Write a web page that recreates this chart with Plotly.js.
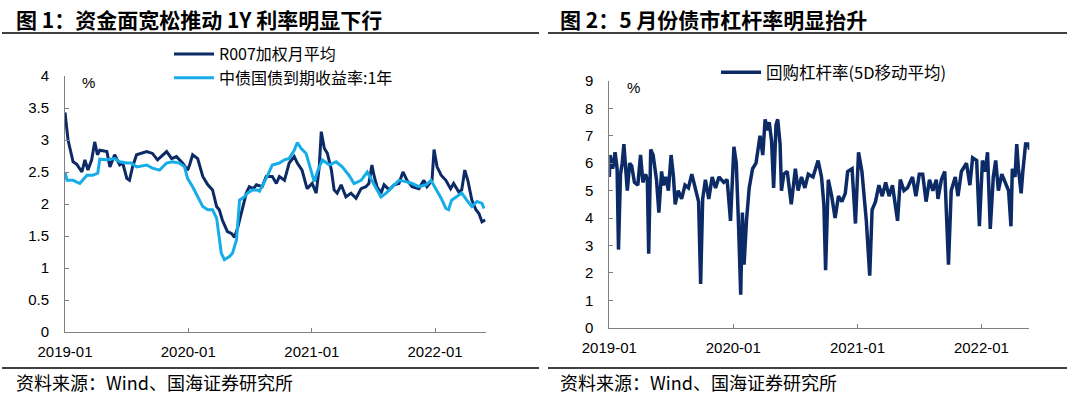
<!DOCTYPE html>
<html>
<head>
<meta charset="utf-8">
<script src="https://cdn.plot.ly/plotly-3.0.1.min.js"></script>
<style>
  html, body { margin: 0; padding: 0; background: #ffffff; }
  #chart { width: 1069px; height: 398px; }
</style>
</head>
<body>
<div id="chart"></div>
<script>
// ---------- Data ----------
const r007Dates = [
  '2019-01-01','2019-01-10','2019-01-25','2019-02-05','2019-02-20','2019-03-01','2019-03-10','2019-03-21',
  '2019-03-30','2019-04-07','2019-04-14','2019-05-05','2019-05-14','2019-05-28','2019-06-12','2019-06-21',
  '2019-07-03','2019-07-11','2019-07-20','2019-08-01','2019-08-31','2019-09-17','2019-10-02','2019-10-29',
  '2019-11-13','2019-11-27','2019-12-15','2019-12-30','2020-01-05','2020-01-14','2020-01-29','2020-02-13',
  '2020-02-28','2020-03-13','2020-03-25','2020-04-02','2020-04-11','2020-04-26','2020-05-08','2020-05-17',
  '2020-05-26','2020-06-09','2020-06-21','2020-06-30','2020-07-12','2020-07-21','2020-08-07','2020-08-19',
  '2020-09-06','2020-09-18','2020-09-27','2020-10-12','2020-10-26','2020-11-10','2020-11-19','2020-12-03',
  '2020-12-18','2021-01-02','2021-01-14','2021-01-23','2021-01-29','2021-02-07','2021-02-16','2021-02-28',
  '2021-03-08','2021-03-17','2021-03-29','2021-04-12','2021-04-27','2021-05-12','2021-05-27','2021-06-10',
  '2021-06-19','2021-06-28','2021-07-04','2021-07-13','2021-07-25','2021-08-03','2021-08-18','2021-09-02',
  '2021-09-16','2021-09-28','2021-10-10','2021-10-25','2021-11-14','2021-11-29','2021-12-08','2021-12-23',
  '2021-12-29','2022-01-07','2022-01-19','2022-02-02','2022-02-16','2022-02-25','2022-03-12','2022-03-21',
  '2022-03-30','2022-04-08','2022-04-20','2022-05-02','2022-05-11','2022-05-20','2022-05-30'
];
const r007Values = [
  3.43,3.00,2.66,2.62,2.50,2.69,2.53,2.69,
  2.97,2.77,2.84,2.82,2.58,2.77,2.61,2.64,
  2.40,2.37,2.58,2.77,2.82,2.79,2.69,2.82,
  2.71,2.74,2.64,2.53,2.61,2.77,2.71,2.43,
  2.30,2.22,1.96,1.91,1.75,1.57,1.54,1.48,
  1.62,1.91,2.17,2.27,2.24,2.30,2.27,2.43,
  2.43,2.32,2.43,2.37,2.64,2.74,2.64,2.53,
  2.24,2.32,2.17,2.58,3.13,2.87,2.79,2.53,
  2.22,2.17,2.30,2.11,2.17,2.09,2.24,2.27,
  2.32,2.61,2.45,2.27,2.17,2.30,2.22,2.30,
  2.32,2.50,2.37,2.27,2.24,2.37,2.27,2.37,
  2.85,2.58,2.45,2.37,2.24,2.32,2.19,2.22,
  2.53,2.37,2.06,1.91,1.85,1.72,1.75
];

const cgbDates = [
  '2019-01-01','2019-01-07','2019-01-25','2019-02-14','2019-03-07','2019-03-24','2019-04-08','2019-04-14',
  '2019-05-05','2019-05-28','2019-06-12','2019-07-03','2019-07-17','2019-08-01','2019-08-31','2019-09-17',
  '2019-10-08','2019-10-29','2019-11-15','2019-12-06','2019-12-21','2019-12-30','2020-01-14','2020-01-29',
  '2020-02-13','2020-02-28','2020-03-13','2020-03-25','2020-04-02','2020-04-08','2020-04-17','2020-05-02',
  '2020-05-11','2020-05-23','2020-06-01','2020-06-15','2020-06-24','2020-07-09','2020-07-24','2020-07-30',
  '2020-08-19','2020-09-06','2020-09-27','2020-10-12','2020-10-26','2020-11-10','2020-11-19','2020-11-30',
  '2020-12-15','2020-12-30','2021-01-08','2021-01-17','2021-02-01','2021-02-22','2021-03-14','2021-04-01',
  '2021-04-21','2021-05-06','2021-05-27','2021-06-14','2021-06-28','2021-07-13','2021-07-25','2021-08-09',
  '2021-08-27','2021-09-16','2021-10-07','2021-10-25','2021-11-14','2021-12-05','2021-12-20','2022-01-03',
  '2022-01-19','2022-02-02','2022-02-10','2022-02-19','2022-03-06','2022-03-21','2022-04-05','2022-04-20',
  '2022-05-05','2022-05-20','2022-05-26'
];
const cgbValues = [
  2.50,2.37,2.37,2.32,2.45,2.45,2.48,2.70,
  2.69,2.71,2.66,2.64,2.64,2.58,2.61,2.56,
  2.53,2.64,2.66,2.64,2.58,2.40,2.27,2.11,
  1.96,1.91,1.91,1.78,1.44,1.23,1.13,1.18,
  1.23,1.44,2.06,2.11,2.17,2.22,2.22,2.20,
  2.40,2.61,2.64,2.69,2.71,2.84,2.96,2.87,
  2.79,2.53,2.35,2.50,2.69,2.61,2.66,2.58,
  2.45,2.32,2.37,2.50,2.37,2.22,2.11,2.17,
  2.27,2.37,2.35,2.32,2.27,2.30,2.37,2.24,
  2.09,1.93,1.91,2.06,2.11,2.17,2.06,1.96,
  2.04,2.01,1.93
];

const levDates = [
  '2019-01-01','2019-01-03','2019-01-11','2019-01-18','2019-01-24','2019-01-28','2019-02-03','2019-02-08',
  '2019-02-13','2019-02-18','2019-02-23','2019-03-02','2019-03-08','2019-03-16','2019-03-26','2019-04-03',
  '2019-04-10','2019-04-18','2019-04-23','2019-04-27','2019-05-03','2019-05-10','2019-05-20','2019-05-27',
  '2019-06-04','2019-06-09','2019-06-16','2019-06-24','2019-07-02','2019-07-09','2019-07-14','2019-07-23',
  '2019-08-02','2019-08-12','2019-08-22','2019-09-01','2019-09-13','2019-09-21','2019-09-27','2019-10-03',
  '2019-10-11','2019-10-21','2019-10-31','2019-11-10','2019-11-20','2019-12-04','2019-12-14','2019-12-24',
  '2020-01-03','2020-01-10','2020-01-16','2020-01-23','2020-01-28','2020-02-02','2020-02-09','2020-02-17',
  '2020-02-27','2020-03-08','2020-03-20','2020-03-28','2020-04-04','2020-04-10','2020-04-16','2020-04-23',
  '2020-04-29','2020-05-06','2020-05-11','2020-05-18','2020-05-22','2020-05-29','2020-06-08','2020-06-20',
  '2020-07-02','2020-07-10','2020-07-20','2020-07-30','2020-08-09','2020-08-23','2020-09-07','2020-09-17',
  '2020-09-24','2020-09-29','2020-10-07','2020-10-17','2020-10-27','2020-11-06','2020-11-16','2020-11-26',
  '2020-12-03','2020-12-16','2020-12-26','2021-01-04','2021-01-14','2021-01-22','2021-01-27','2021-02-06',
  '2021-02-13','2021-02-23','2021-03-05','2021-03-15','2021-03-25','2021-04-04','2021-04-14','2021-04-29',
  '2021-05-07','2021-05-18','2021-05-28','2021-06-12','2021-06-22','2021-07-02','2021-07-12','2021-07-22',
  '2021-08-01','2021-08-11','2021-08-21','2021-08-26','2021-09-05','2021-09-15','2021-09-26','2021-10-04',
  '2021-10-16','2021-10-24','2021-11-03','2021-11-18','2021-11-28','2021-12-06','2021-12-18','2021-12-26',
  '2022-01-04','2022-01-12','2022-01-19','2022-01-27','2022-02-05','2022-02-12','2022-02-20','2022-03-02',
  '2022-03-17','2022-03-22','2022-03-29','2022-04-02','2022-04-10','2022-04-15','2022-04-20','2022-04-28',
  '2022-05-03','2022-05-11','2022-05-19','2022-05-23'
];
const levValues = [
  5.5,6.3,5.8,6.4,5.8,2.85,5.6,6.0,
  6.7,5.9,5.0,6.0,5.9,5.3,5.2,6.3,
  5.3,5.6,5.4,2.7,6.5,6.3,5.4,4.2,
  5.7,5.2,5.5,5.0,6.3,5.5,4.5,5.0,
  4.7,5.2,5.1,5.6,5.0,4.6,1.6,4.7,
  5.4,4.7,5.5,5.1,5.5,5.3,5.4,3.9,
  6.6,6.0,4.0,1.2,4.2,2.3,3.9,5.1,
  5.8,6.0,7.0,6.3,7.6,7.2,7.5,6.8,
  5.1,7.4,7.6,6.7,5.0,5.6,5.7,4.5,
  5.8,5.0,5.5,5.1,5.6,5.5,6.1,5.5,
  4.5,2.1,5.4,4.8,4.0,4.8,4.6,4.9,
  5.7,5.8,3.8,6.4,5.7,4.5,3.9,1.9,
  4.3,4.6,5.2,4.8,5.3,4.8,5.2,3.9,
  5.4,5.0,5.1,5.5,4.8,5.6,5.6,4.6,
  5.4,5.0,5.4,4.7,5.4,5.7,2.3,5.0,
  5.5,4.8,5.7,6.0,5.2,6.2,6.1,3.7,
  6.1,5.7,6.4,3.6,5.5,6.1,5.0,5.6,
  5.1,5.0,3.7,5.8,5.5,6.7,5.8,4.9,
  5.7,6.7,6.7,6.5
];

const leftYTicks = [0, 0.5, 1, 1.5, 2, 2.5, 3, 3.5, 4];
const leftYTickText = ['0','0.5','1','1.5','2','2.5','3','3.5','4'];
const rightYTicks = [0,1,2,3,4,5,6,7,8,9];
const seriesNames = ['R007加权月平均', '中债国债到期收益率:1年', '回购杠杆率(5D移动平均)'];

// ---------- Styling ----------
const W = 1069, H = 398;
const px = v => v / W;
const py = v => (H - v) / H;
const DARK = '#0B2A66';
const LIGHT = '#16ACE8';
const AXIS = '#808080';
const latin = '"Liberation Sans", Arial, sans-serif';
const cjk = '"Noto Sans CJK SC", "Liberation Sans", sans-serif';

const traces = [
  { x: r007Dates, y: r007Values, name: seriesNames[0], type: 'scatter', mode: 'lines',
    line: { color: DARK, width: 3 }, xaxis: 'x', yaxis: 'y', legend: 'legend' },
  { x: cgbDates, y: cgbValues, name: seriesNames[1], type: 'scatter', mode: 'lines',
    line: { color: LIGHT, width: 3 }, xaxis: 'x', yaxis: 'y', legend: 'legend' },
  { x: levDates, y: levValues, name: seriesNames[2], type: 'scatter', mode: 'lines',
    line: { color: DARK, width: 3.5 }, xaxis: 'x2', yaxis: 'y2', legend: 'legend2' }
];

const xCommon = {
  type: 'date', tickformat: '%Y-%m', dtick: 'M12', tick0: '2019-01-01',
  showgrid: false, zeroline: false, showline: true, linecolor: AXIS, linewidth: 1,
  ticks: 'inside', ticklen: 4, tickcolor: AXIS, tickwidth: 1,
  tickfont: { family: latin, size: 15, color: '#000' }, ticklabelstandoff: 6,
  fixedrange: true
};
const yCommon = {
  showgrid: false, zeroline: false, showline: true, linecolor: AXIS, linewidth: 1,
  ticks: 'inside', ticklen: 4, tickcolor: AXIS, tickwidth: 1,
  tickfont: { family: latin, size: 15, color: '#000' }, ticklabelstandoff: 12,
  fixedrange: true
};

const layout = {
  width: W, height: H,
  margin: { l: 0, r: 0, t: 0, b: 0 },
  paper_bgcolor: '#fff', plot_bgcolor: 'rgba(0,0,0,0)',
  showlegend: true,
  xaxis: Object.assign({}, xCommon, { domain: [px(65), px(485.7)], range: ['2019-01-01', '2022-05-31'], anchor: 'y' }),
  yaxis: Object.assign({}, yCommon, { domain: [py(332), py(76)], range: [0, 4], tickvals: leftYTicks, ticktext: leftYTickText, anchor: 'x' }),
  xaxis2: Object.assign({}, xCommon, { domain: [px(609.3), px(1029.3)], range: ['2019-01-01', '2022-05-22'], anchor: 'y2' }),
  yaxis2: Object.assign({}, yCommon, { domain: [py(327.7), py(81)], range: [0, 9], tickvals: rightYTicks, anchor: 'x2' }),
  legend: {
    x: px(169), y: py(37), xanchor: 'left', yanchor: 'top', bgcolor: 'rgba(0,0,0,0)',
    font: { family: cjk, size: 16, color: '#000' }, itemwidth: 40, tracegroupgap: 0
  },
  legend2: {
    x: px(716), y: py(55), xanchor: 'left', yanchor: 'top', bgcolor: 'rgba(0,0,0,0)',
    font: { family: cjk, size: 16.5, color: '#000' }, itemwidth: 40
  },
  shapes: [
    { type: 'line', xref: 'paper', yref: 'paper', x0: px(2), x1: px(539), y0: py(33), y1: py(33), line: { color: '#000', width: 1.5 } },
    { type: 'line', xref: 'paper', yref: 'paper', x0: px(548), x1: px(1067), y0: py(33), y1: py(33), line: { color: '#000', width: 1.5 } },
    { type: 'line', xref: 'paper', yref: 'paper', x0: px(2), x1: px(539), y0: py(368), y1: py(368), line: { color: '#000', width: 1.5 } },
    { type: 'line', xref: 'paper', yref: 'paper', x0: px(548), x1: px(1067), y0: py(368), y1: py(368), line: { color: '#000', width: 1.5 } }
  ],
  annotations: [
    { xref: 'paper', yref: 'paper', x: px(14), y: py(19), xanchor: 'left', yanchor: 'middle', showarrow: false,
      text: '<b>图 1：资金面宽松推动 1Y 利率明显下行</b>', font: { family: cjk, size: 21, color: '#000' } },
    { xref: 'paper', yref: 'paper', x: px(558), y: py(19), xanchor: 'left', yanchor: 'middle', showarrow: false,
      text: '<b>图 2：5 月份债市杠杆率明显抬升</b>', font: { family: cjk, size: 21, color: '#000' } },
    { xref: 'paper', yref: 'paper', x: px(14), y: py(382), xanchor: 'left', yanchor: 'middle', showarrow: false,
      text: '资料来源：Wind、国海证券研究所', font: { family: cjk, size: 18, color: '#000' } },
    { xref: 'paper', yref: 'paper', x: px(558), y: py(382), xanchor: 'left', yanchor: 'middle', showarrow: false,
      text: '资料来源：Wind、国海证券研究所', font: { family: cjk, size: 18, color: '#000' } },
    { xref: 'paper', yref: 'paper', x: px(80), y: py(83), xanchor: 'left', yanchor: 'middle', showarrow: false,
      text: '%', font: { family: latin, size: 15, color: '#000' } },
    { xref: 'paper', yref: 'paper', x: px(625), y: py(87), xanchor: 'left', yanchor: 'middle', showarrow: false,
      text: '%', font: { family: latin, size: 15, color: '#000' } }
  ]
};

Plotly.newPlot('chart', traces, layout, { displayModeBar: false, staticPlot: true });
</script>
</body>
</html>
